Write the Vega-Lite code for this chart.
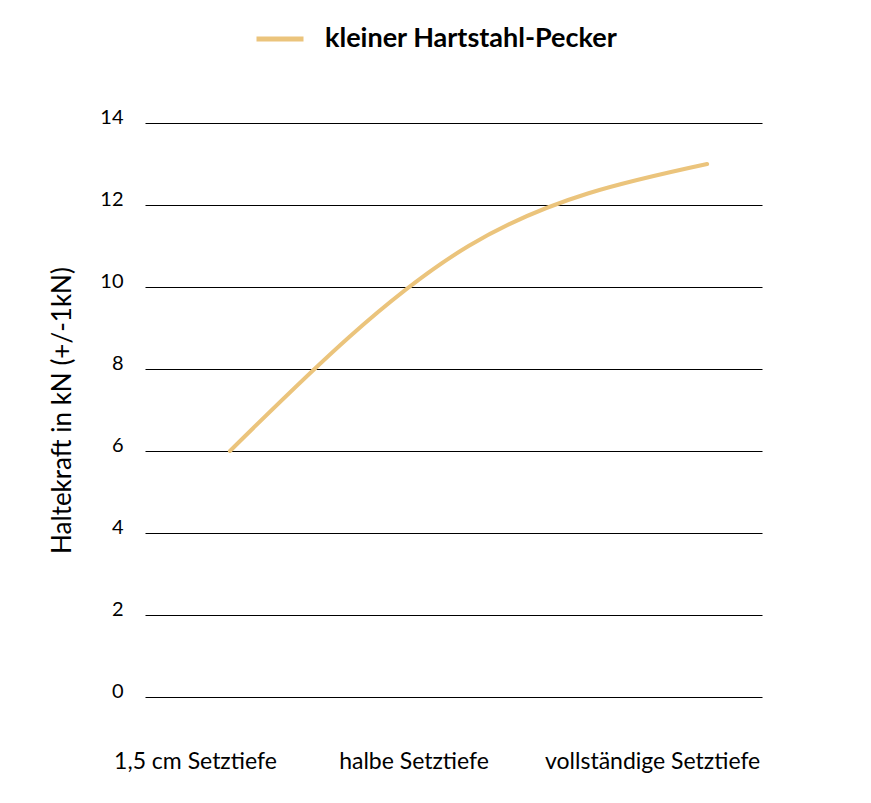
{
  "$schema": "https://vega.github.io/schema/vega-lite/v6.json",
  "autosize": "none",
  "width": 617,
  "height": 574,
  "padding": {"left": 145, "top": 123, "right": 109, "bottom": 106},
  "background": "white",
  "config": {
    "view": {"stroke": null},
    "font": "Lato",
    "axis": {"labelColor": "#000", "titleColor": "#000", "labelFont": "Lato", "titleFont": "Lato"}
  },
  "data": {
    "values": [
      {"Stufe": 0, "Setztiefe": "1,5 cm Setztiefe", "Haltekraft": 6, "Serie": "kleiner Hartstahl-Pecker"},
      {"Stufe": 1, "Setztiefe": "halbe Setztiefe", "Haltekraft": 11, "Serie": "kleiner Hartstahl-Pecker"},
      {"Stufe": 2, "Setztiefe": "vollständige Setztiefe", "Haltekraft": 13, "Serie": "kleiner Hartstahl-Pecker"}
    ]
  },
  "mark": {"type": "line", "interpolate": "monotone", "strokeWidth": 4, "strokeCap": "round"},
  "encoding": {
    "x": {
      "field": "Stufe",
      "type": "quantitative",
      "scale": {"domain": [-0.356, 2.23], "nice": false, "zero": false},
      "axis": {
        "title": null,
        "values": [0, 1, 2],
        "labelExpr": "datum.value === 0 ? '1,5 cm Setztiefe' : datum.value === 1 ? 'halbe Setztiefe' : 'vollständige Setztiefe'",
        "domain": false,
        "ticks": false,
        "grid": false,
        "labelAngle": 0,
        "labelAlign": "center",
        "labelFontSize": 23,
        "labelLimit": 0,
        "labelOverlap": false,
        "labelFlush": false,
        "labelBaseline": "alphabetic",
        "labelPadding": 71,
        "labelOffset": {"condition": {"test": "datum.value === 0", "value": -35}, "value": -55}
      }
    },
    "y": {
      "field": "Haltekraft",
      "type": "quantitative",
      "scale": {"domain": [0, 14], "nice": false, "zero": true},
      "axis": {
        "title": "Haltekraft in kN (+/-1kN)",
        "titleFontSize": 26,
        "titleFontWeight": "normal",
        "titleAngle": -90,
        "titleX": -83,
        "titleY": 287,
        "titleAlign": "center",
        "titleBaseline": "middle",
        "values": [0, 2, 4, 6, 8, 10, 12, 14],
        "domain": false,
        "ticks": false,
        "grid": true,
        "gridColor": "#000",
        "gridWidth": 1.2,
        "gridOpacity": 1,
        "labelFontSize": 20,
        "labelBaseline": "alphabetic",
        "labelDy": 3,
        "labelPadding": 22
      }
    },
    "color": {
      "field": "Serie",
      "type": "nominal",
      "scale": {"range": ["#EBC47C"]},
      "legend": {
        "title": null,
        "orient": "none",
        "legendX": 109,
        "legendY": -110,
        "symbolType": "stroke",
        "symbolSize": 2209,
        "symbolStrokeWidth": 5,
        "labelFontSize": 27,
        "labelFontWeight": "bold",
        "labelColor": "#000",
        "labelFont": "Lato",
        "labelLimit": 0,
        "labelOffset": 19
      }
    }
  }
}
